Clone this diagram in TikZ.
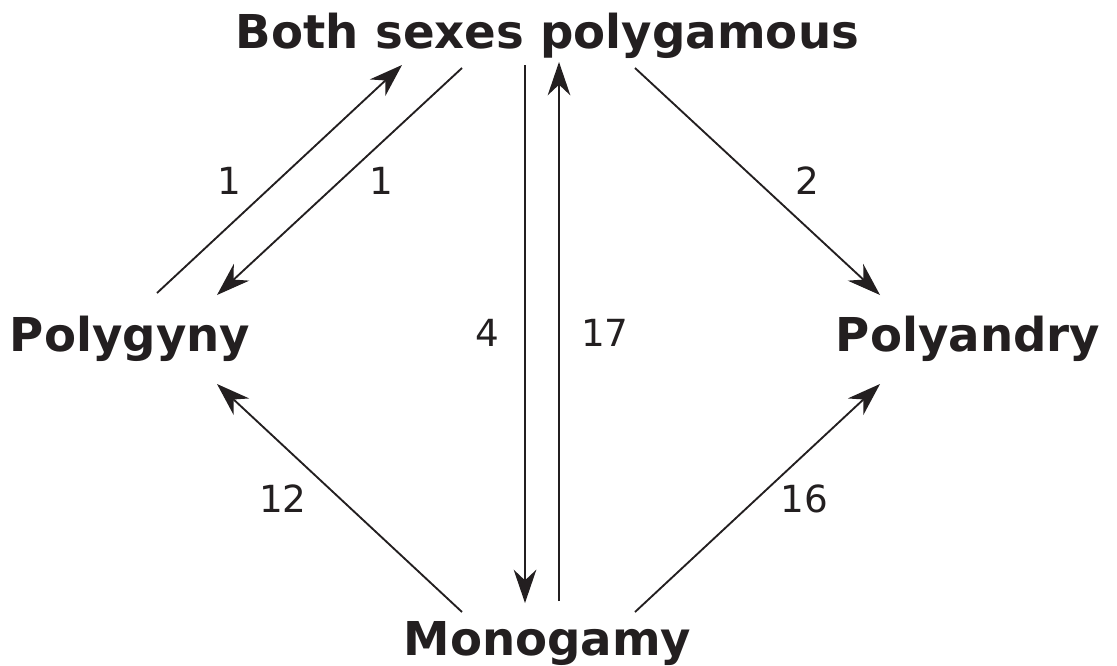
\documentclass[tikz,border=0pt]{standalone}
\usepackage{fontspec}
\setmainfont{DejaVu Sans}
\usetikzlibrary{arrows.meta}
\definecolor{ink}{HTML}{231F20}
\tikzset{
  big/.style={font=\fontsize{35}{42}\selectfont\bfseries, text=ink, inner sep=0pt, anchor=base},
  num/.style={font=\fontsize{28}{34}\selectfont, text=ink, inner sep=0pt},
  conn/.style={draw=ink, line width=1.4pt, -{Stealth[length=25pt, width=17pt, inset=8pt]}}
}
\begin{document}
\begin{tikzpicture}[x={(0.75pt,0)}, y={(0,-0.75pt)}]
\useasboundingbox (0,0) rectangle (1117,665);
% labels
\node[big] (both) at (547.5,48) {Both sexes polygamous};
\node[big] (pgy) at (130,351) {Polygyny};
\node[big] (pan) at (968,351) {Polyandry};
\node[big] (mono) at (547.5,655) {Monogamy};
% connector ends
\coordinate (a1s) at (157,293); \coordinate (a1e) at (402,65);
\coordinate (a2s) at (462,68);  \coordinate (a2e) at (217,295);
\coordinate (a3s) at (525,65);  \coordinate (a3e) at (525,603);
\coordinate (a4s) at (559,601); \coordinate (a4e) at (559,62);
\coordinate (a5s) at (635,68);  \coordinate (a5e) at (880,295);
\coordinate (a6s) at (462,612); \coordinate (a6e) at (217,384);
\coordinate (a7s) at (635,612); \coordinate (a7e) at (880,384);
\draw[conn] (a1s) -- (a1e);
\draw[conn] (a2s) -- (a2e);
\draw[conn] (a3s) -- (a3e);
\draw[conn] (a4s) -- (a4e);
\draw[conn] (a5s) -- (a5e);
\draw[conn] (a6s) -- (a6e);
\draw[conn] (a7s) -- (a7e);
% numbers
\node[num] (n1) at (229,181) {1};
\node[num] (n2) at (381,181) {1};
\node[num] (n3) at (807,181) {2};
\node[num] (n4) at (487,333) {4};
\node[num] (n5) at (605,333) {17};
\node[num] (n6) at (283,499) {12};
\node[num] (n7) at (804,499) {16};
\end{tikzpicture}
\end{document}
